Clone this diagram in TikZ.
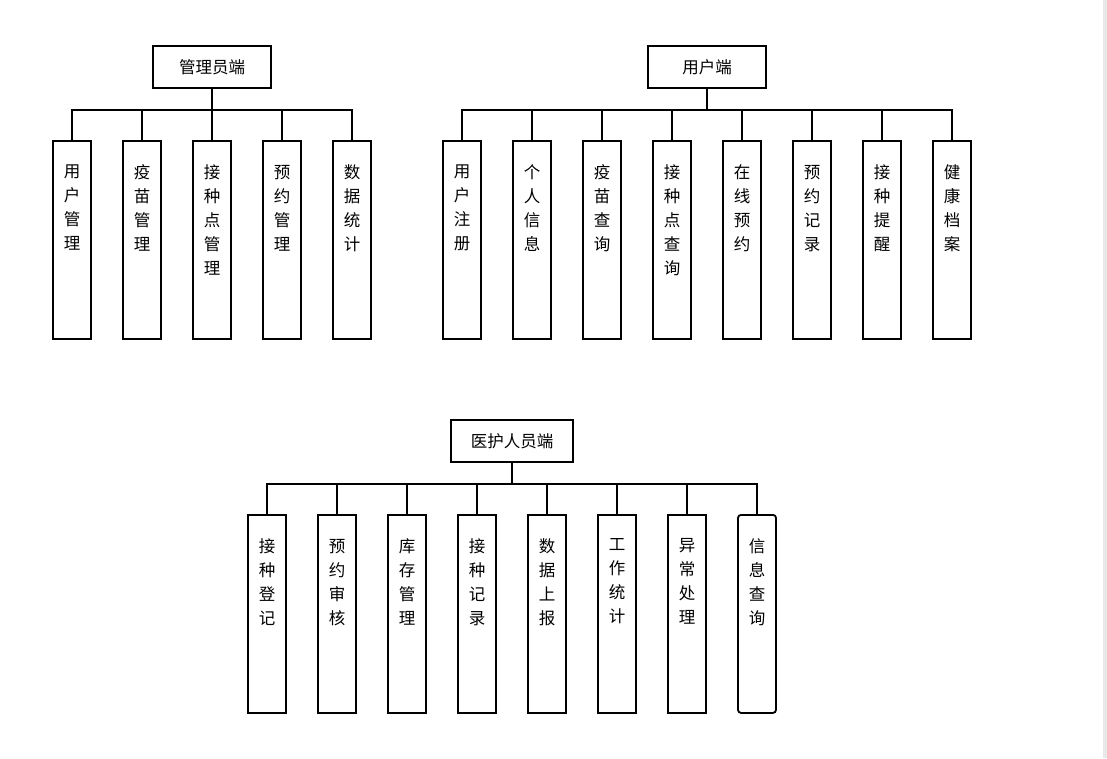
\documentclass[tikz,border=0pt]{standalone}
\usepackage{fontspec}
\newfontfamily\cjk{Noto Sans CJK SC}
\begin{document}
\begin{tikzpicture}[x=1pt,y=-1pt,line width=1.8pt,
  rootbox/.style={draw,minimum width=118pt,minimum height=42pt,inner sep=0pt,font=\cjk\fontsize{16.5}{18}\selectfont},
  leafbox/.style={draw,minimum width=38pt,minimum height=198pt,inner sep=0pt,anchor=north},
  vtext/.style={font=\cjk\fontsize{16.5}{24}\selectfont,align=center,anchor=north,inner sep=0pt}]
\fill[white] (0,0) rectangle (1107,758);
\fill[gray!18] (1103,0) rectangle (1107,758);
\useasboundingbox (0,0) rectangle (1107,758);
% admin
\node[rootbox] (A) at (212,67) {管理员端};
\coordinate (Abus) at (212,110);
\draw (A.south) -- (Abus);
\foreach \t [count=\i] in {{用\\户\\管\\理},{疫\\苗\\管\\理},{接\\种\\点\\管\\理},{预\\约\\管\\理},{数\\据\\统\\计}}{
  \node[leafbox] (a\i) at ({72+70*(\i-1)},140) {};
  \node[vtext] (at\i) at ([yshift=-24pt]a\i.north) {\t};
  \draw (Abus) -| (a\i.north);
}
% user
\node[rootbox,minimum width=118pt] (U) at (707,67) {用户端};
\coordinate (Ubus) at (707,110);
\draw (U.south) -- (Ubus);
\foreach \t [count=\i] in {{用\\户\\注\\册},{个\\人\\信\\息},{疫\\苗\\查\\询},{接\\种\\点\\查\\询},{在\\线\\预\\约},{预\\约\\记\\录},{接\\种\\提\\醒},{健\\康\\档\\案}}{
  \node[leafbox] (u\i) at ({462+70*(\i-1)},140) {};
  \node[vtext] (ut\i) at ([yshift=-24pt]u\i.north) {\t};
  \draw (Ubus) -| (u\i.north);
}
% medical
\node[rootbox,minimum width=122pt] (M) at (512,441) {医护人员端};
\coordinate (Mbus) at (512,484);
\draw (M.south) -- (Mbus);
\foreach \t [count=\i] in {{接\\种\\登\\记},{预\\约\\审\\核},{库\\存\\管\\理},{接\\种\\记\\录},{数\\据\\上\\报},{工\\作\\统\\计},{异\\常\\处\\理}}{
  \node[leafbox] (m\i) at ({267+70*(\i-1)},514) {};
  \node[vtext] (mt\i) at ([yshift=-24pt]m\i.north) {\t};
  \draw (Mbus) -| (m\i.north);
}
\node[leafbox,rounded corners=3pt] (m8) at (757,514) {};
\node[vtext] (mt8) at ([yshift=-24pt]m8.north) {信\\息\\查\\询};
\draw (Mbus) -| (m8.north);
\end{tikzpicture}
\end{document}
